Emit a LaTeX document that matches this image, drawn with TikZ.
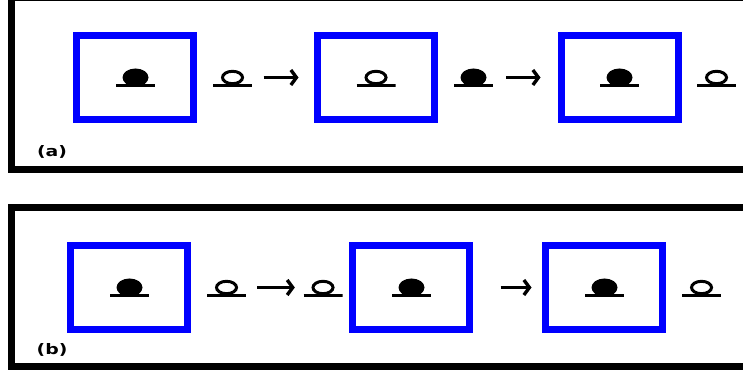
\documentclass[tikz,border=0pt]{standalone}
\usepackage{fontspec}
\setmainfont{DejaVu Sans}
\usetikzlibrary{arrows.meta}
\tikzset{
  frame/.style={line width=7pt},
  box/.style={draw=blue, line width=7pt, minimum width=117pt, minimum height=84pt, inner sep=0pt},
  site/.style={minimum width=39pt, minimum height=24pt, inner sep=0pt},
  full/.style={site, path picture={
      \fill (path picture bounding box.center) ellipse (13pt and 9pt);
      \draw[line width=3pt] ([yshift=-8.5pt]path picture bounding box.west) -- ([yshift=-8.5pt]path picture bounding box.east);}},
  empty/.style={site, path picture={
      \draw[line width=3pt] (path picture bounding box.center) ellipse (10pt and 6.2pt);
      \draw[line width=3pt] ([yshift=-8.5pt]path picture bounding box.west) -- ([yshift=-8.5pt]path picture bounding box.east);}},
  hop/.style={line width=3.4pt, -{Straight Barb[length=5.5pt,width=15pt]}},
  tag/.style={font=\fontsize{14.5}{14.5}\selectfont\bfseries, xscale=1.3, transform shape, inner sep=0pt}
}
\begin{document}
\begin{tikzpicture}[x=1pt, y=1pt]
  \path[use as bounding box, clip] (0,0) rectangle (743,374);
  \draw[frame] (11,376.5) rectangle (760,204);
  \draw[frame] (11,166.5) rectangle (760,7.5);
  \node[tag] (ta) at (52,222.5) {(a)};
  \node[tag] (tb) at (52,24) {(b)};
  \node[box] (a1) at (135,296.5) {};
  \node[box] (a2) at (376,296.5) {};
  \node[box] (a3) at (620,296.5) {};
  \node[full] (af1) at (135.5,296.5) {};
  \node[empty] (ae1) at (232.5,296.5) {};
  \node[empty] (ae2) at (376,296.5) {};
  \node[full] (af2) at (473.5,296.5) {};
  \node[full] (af3) at (619.5,296.5) {};
  \node[empty] (ae3) at (716.5,296.5) {};
  \node[box] (b1) at (129,86.5) {};
  \node[box] (b2) at (411,86.5) {};
  \node[box] (b3) at (604,86.5) {};
  \node[full] (bf1) at (129.5,86.5) {};
  \node[empty] (be1) at (226.5,86.5) {};
  \node[empty] (be2) at (323,86.5) {};
  \node[full] (bf2) at (411.5,86.5) {};
  \node[full] (bf3) at (604.5,86.5) {};
  \node[empty] (be3) at (701.5,86.5) {};
  \begin{scope}[hop]
    \draw[shorten <=11.5pt, shorten >=15.5pt] (ae1.east) -- (a2.west);
    \draw[shorten <=13pt, shorten >=17.5pt] (af2.east) -- (a3.west);
    \draw[shorten <=11pt, shorten >=8.5pt] (be1.east) -- (be2.west);
    \draw[shorten <=27.5pt, shorten >=10.5pt] (b2.east) -- (b3.west);
  \end{scope}
\end{tikzpicture}
\end{document}
